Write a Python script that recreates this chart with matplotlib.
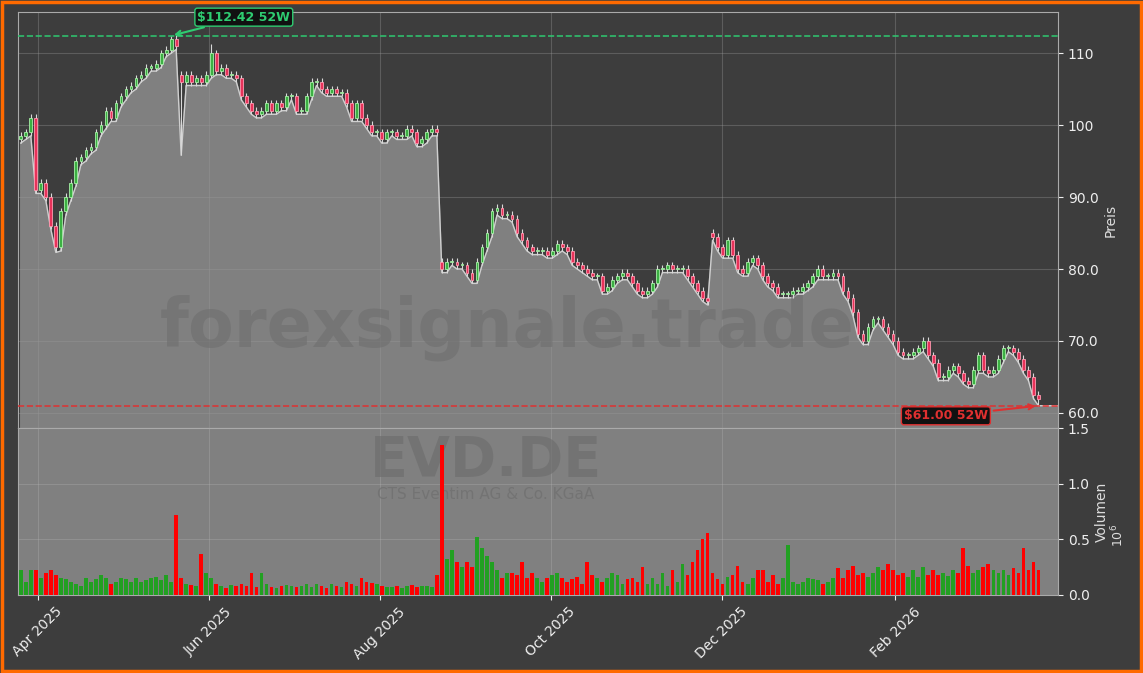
import matplotlib.pyplot as plt
import matplotlib.dates as mdates
import numpy as np
import pandas as pd

# daily-ish closing prices (EUR)
closes = [98.5, 99, 101,
          91, 92, 90, 86, 83, 88, 90, 92, 95, 95.5, 96.5, 97, 99, 100, 102, 101, 103, 104, 105, 105.5,
          106.5, 107, 108, 108, 108.5, 110, 110.5, 112, 111, 106, 107, 106, 106.5, 106, 107, 110, 107.5, 108, 107, 107,
          106.5, 104, 103, 102, 101.5, 102, 103, 102, 103, 102.5, 104, 104, 102, 102, 104, 106, 106, 105, 104.5, 105,
          104.5, 104.5, 103, 101, 103, 101, 100, 99, 99, 98, 99, 99, 98.5, 98.5, 99.5, 99, 97.5, 98, 99, 99.5,
          99, 80, 81, 81, 80.5, 80.5, 79.5, 78.5, 81, 83, 85, 88, 88.5, 87.5, 87.5, 87, 85, 84, 83, 82.5,
          82.5, 82.5, 82, 82.5, 83.5, 83, 82.5, 81, 80.5, 80, 79.5, 79, 79, 77, 77.5, 78.5, 79, 79.5, 79, 78,
          77, 76.5, 77, 78, 80, 80, 80.5, 80, 80, 80, 79, 78, 77, 76, 75.5, 84.5, 83, 82, 84, 82,
          80, 79.5, 81, 81.5, 80.5, 79, 78, 77.5, 76.5, 76.5, 76.5, 77, 77, 77.5, 78, 79, 80, 79, 79, 79.5,
          79, 77, 76, 74, 71, 70, 72, 73, 73, 72, 71, 70, 68.5, 68, 68, 68.5, 69, 70, 68, 67,
          65, 65, 66, 66.5, 65.5, 64.5, 64, 66, 68, 66, 65.5, 66, 67.5, 69, 69, 68.5, 67.5, 66, 65, 62.5,
          62]

# volume in millions
volumes = [0.22, 0.12, 0.22,
           0.22, 0.15, 0.2, 0.22, 0.18, 0.15, 0.14, 0.12, 0.1, 0.08, 0.15, 0.12, 0.14, 0.18, 0.15, 0.1, 0.12, 0.15, 0.14, 0.12,
           0.15, 0.12, 0.13, 0.15, 0.16, 0.13, 0.18, 0.12, 0.72, 0.15, 0.1, 0.09, 0.08, 0.37, 0.2, 0.15, 0.1, 0.08, 0.06, 0.09,
           0.08, 0.1, 0.08, 0.2, 0.07, 0.2, 0.1, 0.07, 0.06, 0.08, 0.09, 0.08, 0.07, 0.08, 0.1, 0.07, 0.1, 0.08, 0.06, 0.1,
           0.08, 0.07, 0.12, 0.1, 0.08, 0.15, 0.12, 0.11, 0.1, 0.08, 0.07, 0.07, 0.08, 0.06, 0.08, 0.09, 0.07, 0.08, 0.08, 0.07,
           0.18, 1.35, 0.32, 0.4, 0.3, 0.25, 0.3, 0.25, 0.52, 0.42, 0.35, 0.3, 0.22, 0.15, 0.2, 0.2, 0.18, 0.3, 0.15, 0.2,
           0.15, 0.12, 0.15, 0.18, 0.2, 0.15, 0.12, 0.14, 0.16, 0.1, 0.3, 0.18, 0.15, 0.12, 0.15, 0.2, 0.18, 0.1, 0.14, 0.15,
           0.12, 0.25, 0.1, 0.15, 0.1, 0.2, 0.08, 0.22, 0.12, 0.28, 0.18, 0.3, 0.4, 0.5, 0.56, 0.2, 0.14, 0.1, 0.16, 0.18,
           0.26, 0.12, 0.1, 0.15, 0.22, 0.22, 0.12, 0.18, 0.1, 0.15, 0.45, 0.12, 0.1, 0.12, 0.15, 0.14, 0.13, 0.1, 0.12, 0.15,
           0.24, 0.15, 0.22, 0.26, 0.18, 0.2, 0.16, 0.2, 0.25, 0.22, 0.28, 0.22, 0.18, 0.2, 0.16, 0.22, 0.16, 0.25, 0.18, 0.22,
           0.18, 0.2, 0.17, 0.22, 0.2, 0.42, 0.26, 0.2, 0.22, 0.25, 0.28, 0.22, 0.2, 0.22, 0.18, 0.24, 0.2, 0.42, 0.22, 0.3,
           0.22]

# notable opens / wicks
open_override = {32: 107.0, 84: 81.0, 138: 85.0}
high_override = {30: 112.42, 38: 111.2}
low_override = {7: 82.3, 32: 95.8, 203: 61.0}

high_52w = 112.42
low_52w = 61.00

n = len(closes)
start = pd.Timestamp('2025-03-26')
end = pd.Timestamp('2026-03-24')
dates = pd.to_datetime(np.linspace(start.value, end.value, n))
x = mdates.date2num(dates)
x_lo = mdates.date2num(pd.Timestamp('2025-03-25'))
x_hi = mdates.date2num(pd.Timestamp('2026-03-31'))

closes = np.array(closes)
opens = np.concatenate([[closes[0] - 0.5], closes[:-1]])
for k, v in open_override.items():
    opens[k] = v
highs = np.maximum(opens, closes) + 0.5
lows = np.minimum(opens, closes) - 0.5
for k, v in high_override.items():
    highs[k] = v
for k, v in low_override.items():
    lows[k] = v
up = closes >= opens

bg = '#3d3d3d'
fig = plt.figure(figsize=(11.43, 6.73), dpi=100, facecolor=bg)
fig.patches.append(plt.Rectangle((0.002, 0.003), 0.996, 0.994, transform=fig.transFigure,
                                 fill=False, edgecolor='#ff6a00', linewidth=2.5))
ax = fig.add_axes([0.0157, 0.364, 0.91, 0.618], facecolor=bg)
axv = fig.add_axes([0.0157, 0.116, 0.91, 0.248], facecolor='#808080', sharex=ax)

# price panel
fx = np.concatenate([x, [x_hi]])
fy = np.concatenate([lows, [lows[-1]]])
ax.fill_between(fx, fy, 0, color='#808080', zorder=1)
ax.plot(fx, fy, color='#cfcfcf', linewidth=1, zorder=2)
ax.vlines(x, lows, highs, color='#d8d8d8', linewidth=0.8, zorder=3)
body_col = np.where(up, '#3cb043', '#e8325a')
edge_col = np.where(up, '#a8f0a8', '#ff9ab0')
ax.bar(x, np.maximum(np.abs(closes - opens), 0.15), bottom=np.minimum(opens, closes), width=1.0,
       color=body_col, edgecolor=edge_col, linewidth=0.6, zorder=4)

ax.axhline(high_52w, color='#2ecc71', linestyle='--', linewidth=1.2, alpha=0.9, zorder=5)
ax.axhline(low_52w, color='#e03030', linestyle='--', linewidth=1.2, alpha=0.9, zorder=5)
ax.annotate(f'${high_52w:.2f} 52W', xy=(x[30], high_52w), xytext=(mdates.date2num(pd.Timestamp('2025-05-28')), 115.0),
            color='#2ecc71', fontsize=9, fontweight='bold', va='center',
            bbox=dict(boxstyle='round,pad=0.2', fc='#111111', ec='#2ecc71'),
            arrowprops=dict(arrowstyle='->', color='#2ecc71', lw=1.5), zorder=6)
ax.annotate(f'${low_52w:.2f} 52W', xy=(x[-1], low_52w), xytext=(mdates.date2num(pd.Timestamp('2026-02-04')), 59.6),
            color='#e03030', fontsize=9, fontweight='bold', va='center',
            bbox=dict(boxstyle='round,pad=0.2', fc='#111111', ec='#e03030'),
            arrowprops=dict(arrowstyle='->', color='#e03030', lw=1.5), zorder=6)

ax.text(0.47, 0.24, 'forexsignale.trade', transform=ax.transAxes, fontsize=48, fontweight='bold',
        color='#6e6e6e', alpha=0.6, ha='center', va='center', zorder=2.5)

ax.set_ylim(57.9, 115.7)
ax.set_yticks([60, 70, 80, 90, 100, 110])
ax.set_yticklabels(['60.0', '70.0', '80.0', '90.0', '100', '110'])
ax.yaxis.tick_right()
ax.yaxis.set_label_position('right')
ax.set_ylabel('Preis', color='#dddddd')
ax.grid(True, color='#9a9a9a', alpha=0.35, linewidth=0.8)
ax.tick_params(axis='x', labelbottom=False, length=0)
ax.tick_params(axis='y', colors='#eeeeee')

# volume panel
vol_col = np.where(up, '#22a022', '#ff0000')
axv.bar(x, volumes, width=1.3, color=vol_col, zorder=3)
axv.text(0.45, 0.8, 'EVD.DE', transform=axv.transAxes, fontsize=40, fontweight='bold',
         color='#6e6e6e', alpha=0.7, ha='center', va='center', zorder=2)
axv.text(0.45, 0.6, 'CTS Eventim AG & Co. KGaA', transform=axv.transAxes, fontsize=11,
         color='#6e6e6e', alpha=0.7, ha='center', va='center', zorder=2)
axv.set_ylim(0, 1.5)
axv.set_yticks([0, 0.5, 1.0, 1.5])
axv.set_yticklabels(['0.0', '0.5', '1.0', '1.5'])
axv.yaxis.tick_right()
axv.yaxis.set_label_position('right')
axv.set_ylabel('Volumen', color='#dddddd')
fig.text(0.978, 0.205, '$10^6$', color='#dddddd', rotation=90, fontsize=9, ha='center', va='center')
axv.grid(True, color='#b0b0b0', alpha=0.35, linewidth=0.8)
axv.tick_params(axis='y', colors='#eeeeee')
axv.tick_params(axis='x', colors='#eeeeee')

axv.set_xlim(x_lo, x_hi)
axv.xaxis.set_major_locator(mdates.MonthLocator(bymonth=[4, 6, 8, 10, 12, 2]))
axv.xaxis.set_major_formatter(mdates.DateFormatter('%b %Y'))
plt.setp(axv.get_xticklabels(), rotation=45, ha='center')

for a in (ax, axv):
    for s in a.spines.values():
        s.set_color('#aaaaaa')

fig.savefig('out.png', dpi=100, facecolor=bg)
